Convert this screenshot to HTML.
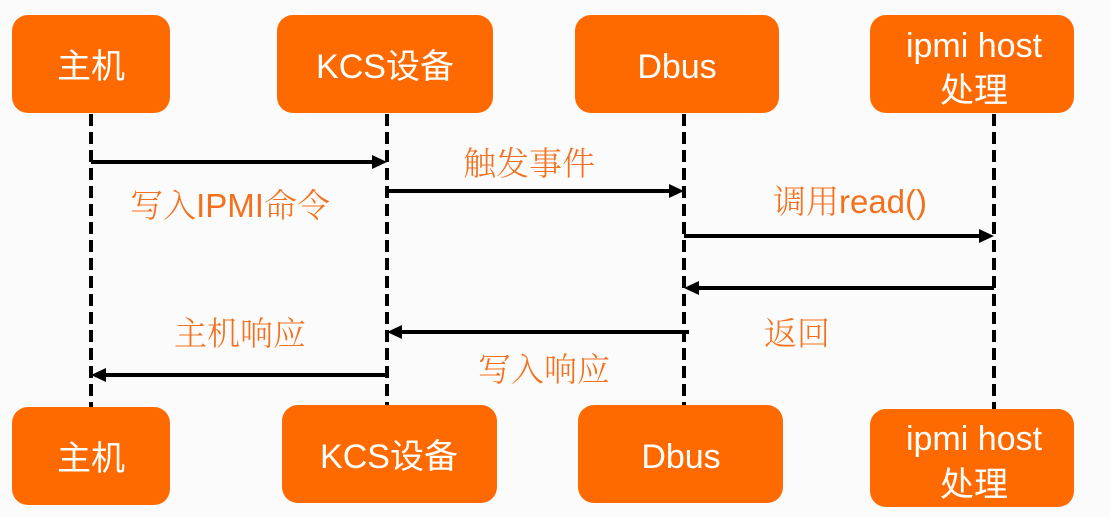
<!DOCTYPE html>
<html><head><meta charset="utf-8"><style>
html,body{margin:0;padding:0;background:#fff;}
svg{display:block}
.bt{font-family:"Liberation Sans","Noto Sans CJK SC",sans-serif;font-size:34px;fill:#fff;text-anchor:middle}
.lb{font-family:"Liberation Sans","Noto Serif CJK SC",serif;font-size:33px;fill:#f3711e;text-anchor:middle;font-weight:300}
.ll{stroke:#000;stroke-width:4;stroke-dasharray:12,6}
.ar{stroke:#000;stroke-width:4}
</style></head><body>
<svg width="1110" height="517" viewBox="0 0 1110 517" xmlns="http://www.w3.org/2000/svg">
<rect width="1110" height="517" fill="#fbfbfb"/>
<!-- lifelines -->
<line class="ll" x1="91" y1="114" x2="91" y2="407"/>
<line class="ll" x1="387" y1="114" x2="387" y2="405"/>
<line class="ll" x1="684" y1="114" x2="684" y2="405"/>
<line class="ll" x1="994" y1="114" x2="994" y2="409"/>
<!-- boxes top -->
<rect x="12" y="15" width="158" height="98" rx="16" fill="#ff6a00"/>
<rect x="277" y="15" width="216" height="98" rx="16" fill="#ff6a00"/>
<rect x="575" y="15" width="204" height="98" rx="16" fill="#ff6a00"/>
<rect x="870" y="15" width="204" height="98" rx="16" fill="#ff6a00"/>
<text class="bt" x="91" y="78">主机</text>
<text class="bt" x="385" y="78">KCS设备</text>
<text class="bt" x="677" y="78">Dbus</text>
<text class="bt" x="974" y="57">ipmi host</text>
<text class="bt" x="974" y="102">处理</text>
<!-- boxes bottom -->
<rect x="12" y="407" width="158" height="98" rx="16" fill="#ff6a00"/>
<rect x="282" y="405" width="215" height="98" rx="16" fill="#ff6a00"/>
<rect x="578" y="405" width="205" height="98" rx="16" fill="#ff6a00"/>
<rect x="870" y="409" width="204" height="98" rx="16" fill="#ff6a00"/>
<text class="bt" x="91" y="470">主机</text>
<text class="bt" x="389" y="468">KCS设备</text>
<text class="bt" x="681" y="468">Dbus</text>
<text class="bt" x="974" y="450">ipmi host</text>
<text class="bt" x="974" y="496">处理</text>
<!-- arrows -->
<line class="ar" x1="91" y1="162" x2="375" y2="162"/><polygon points="387,162 372,155 372,169"/>
<line class="ar" x1="387" y1="191" x2="672" y2="191"/><polygon points="684,191 669,184 669,198"/>
<line class="ar" x1="684" y1="236" x2="982" y2="236"/><polygon points="994,236 979,229 979,243"/>
<line class="ar" x1="994" y1="288" x2="696" y2="288"/><polygon points="684,288 699,281 699,295"/>
<line class="ar" x1="689" y1="332" x2="399" y2="332"/><polygon points="387,332 402,325 402,339"/>
<line class="ar" x1="389" y1="375" x2="103" y2="375"/><polygon points="91,375 106,368 106,382"/>
<!-- labels -->
<text class="lb" x="230" y="217">写入IPMI命令</text>
<text class="lb" x="529" y="175">触发事件</text>
<text class="lb" x="850" y="213">调用read()</text>
<text class="lb" x="797" y="345">返回</text>
<text class="lb" x="240" y="345">主机响应</text>
<text class="lb" x="544" y="381">写入响应</text>
</svg>
</body></html>
